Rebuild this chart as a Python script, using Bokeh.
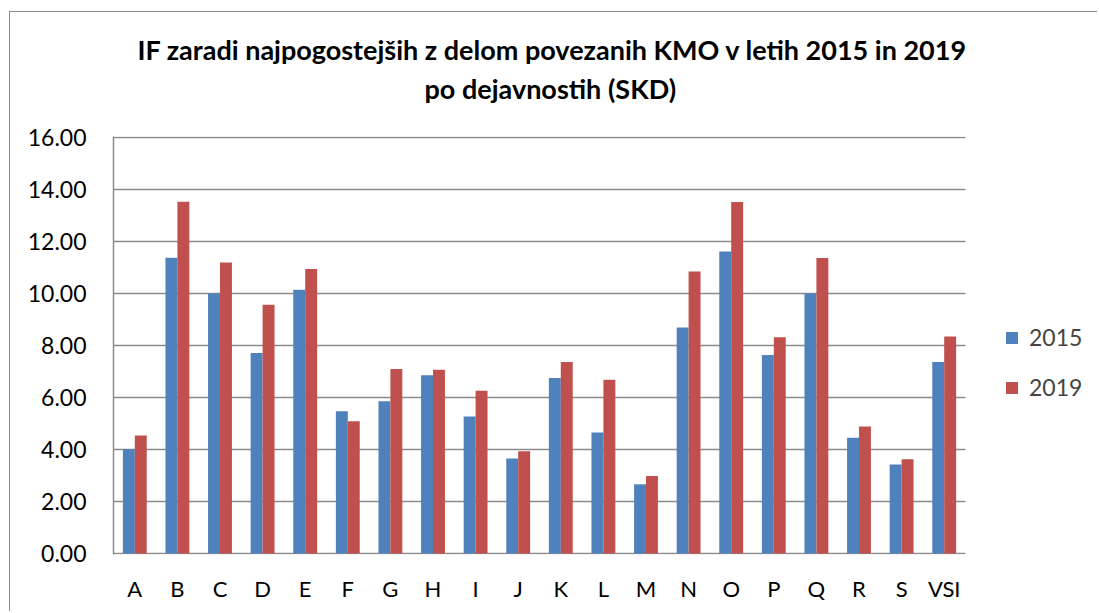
from bokeh.plotting import figure
from bokeh.models import (ColumnDataSource, Legend, LegendItem, Title,
                          NumeralTickFormatter, FixedTicker, Range1d)
from bokeh.embed import file_html
from bokeh.resources import INLINE

categories = ["A", "B", "C", "D", "E", "F", "G", "H", "I", "J",
              "K", "L", "M", "N", "O", "P", "Q", "R", "S", "VSI"]
values_2015 = [4.01, 11.38, 10.00, 7.71, 10.14, 5.47, 5.86, 6.86, 5.27, 3.65,
               6.75, 4.65, 2.66, 8.69, 11.62, 7.63, 10.00, 4.45, 3.42, 7.37]
values_2019 = [4.54, 13.53, 11.19, 9.57, 10.94, 5.09, 7.10, 7.07, 6.26, 3.93,
               7.37, 6.68, 2.98, 10.85, 13.52, 8.32, 11.37, 4.88, 3.62, 8.35]
series_names = ["2015", "2019"]
y_ticks = [0, 2, 4, 6, 8, 10, 12, 14, 16]
title_line1 = "IF zaradi najpogostejših z delom povezanih KMO v letih 2015 in 2019"
title_line2 = "po dejavnostih (SKD)"

FONT = "Lato"
BLUE = "#4F81BD"
RED = "#C0504D"
GRAY = "#8c8c8c"

# layout (pixels)
W, H = 1088, 600
LEFT, TOP, BOTTOM = 103, 124, 58
CAT_PX = 852  # width of the category area
n = len(categories)
x_end = n * (W - LEFT) / CAT_PX

centers = [i + 0.5 for i in range(n)]
bw = 0.28
source = ColumnDataSource(dict(
    x1=[c - bw / 2 for c in centers], x2=[c + bw / 2 for c in centers],
    v2015=values_2015, v2019=values_2019))

p = figure(x_range=Range1d(0, x_end), y_range=Range1d(-0.04, 16.04),
           width=W, height=H, output_backend="svg", toolbar_location=None,
           title=None, min_border_left=LEFT, min_border_right=0,
           min_border_top=TOP, min_border_bottom=BOTTOM)
p.styles = {"border-left": "1px solid #8c8c8c", "border-top": "1px solid #8c8c8c",
            "margin-left": "9px", "margin-top": "11px"}

# horizontal grid lines across the category area only
p.segment(x0=[0] * len(y_ticks), x1=[n] * len(y_ticks), y0=y_ticks, y1=y_ticks,
          line_color=GRAY, line_width=1.5)

r1 = p.vbar(x="x1", top="v2015", width=bw, source=source,
            fill_color=BLUE, line_color=None)
r2 = p.vbar(x="x2", top="v2019", width=bw, source=source,
            fill_color=RED, line_color=None)

p.outline_line_color = None
p.xgrid.grid_line_color = None
p.ygrid.grid_line_color = None
p.yaxis.ticker = FixedTicker(ticks=y_ticks)
p.yaxis.formatter = NumeralTickFormatter(format="0.00")
p.xaxis.ticker = FixedTicker(ticks=centers)
p.xaxis.major_label_overrides = {c: cat for c, cat in zip(centers, categories)}

for ax in (p.xaxis, p.yaxis):
    ax.axis_line_color = GRAY
    ax.axis_line_width = 1.5
    ax.major_tick_line_color = None
    ax.minor_tick_line_color = None
    ax.major_label_text_font = FONT
    ax.major_label_text_color = "#000000"
p.xaxis.axis_line_color = None
p.yaxis.major_label_text_font_size = "23px"
p.xaxis.major_label_text_font_size = "22px"
p.yaxis.major_label_standoff = 21
p.xaxis.major_label_standoff = 14

legend = Legend(items=[LegendItem(label=series_names[0], renderers=[r1]),
                       LegendItem(label=series_names[1], renderers=[r2])],
                location=(891, 153), orientation="vertical")
legend.border_line_color = None
legend.background_fill_alpha = 0
legend.padding = 10
legend.spacing = 22
legend.glyph_width = 15
legend.glyph_height = 15
legend.label_standoff = 10
legend.label_text_font = FONT
legend.label_text_font_size = "23px"
p.add_layout(legend, "center")

spacer = Title(text=" ", text_font=FONT, text_font_size="10px", standoff=15)
t2 = Title(text=title_line2, align="left", offset=311, text_font=FONT,
           text_font_size="27px", text_font_style="bold", text_color="#000000",
           standoff=6)
t1 = Title(text=title_line1, align="left", offset=24, text_font=FONT,
           text_font_size="27px", text_font_style="bold", text_color="#000000",
           standoff=1)
p.add_layout(spacer, "above")
p.add_layout(t2, "above")
p.add_layout(t1, "above")

open("out.html", "w").write(file_html(p, INLINE))
